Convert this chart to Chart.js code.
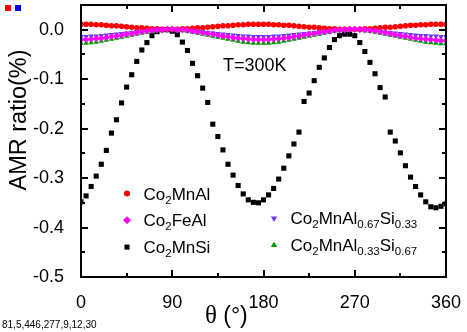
<!DOCTYPE html>
<html>
<head>
<meta charset="utf-8">
<script src="https://cdn.jsdelivr.net/npm/chart.js@4.4.1/dist/chart.umd.min.js"></script>
<style>
  html, body { margin: 0; padding: 0; background: #fff; }
  #wrap { width: 467px; height: 332px; position: relative; }
  #amr { position: relative; z-index: 1; }
  #deco { position: absolute; left: 0; top: 0; width: 467px; height: 332px; pointer-events: none; z-index: 2; }
  .k { position: absolute; background: #000; }
</style>
</head>
<body>
<div id="wrap"><canvas id="amr"></canvas><div id="deco"><div class="k" style="left:15px;top:5px;width:6px;height:6px;background:#00f"></div></div></div>
<script>
// rotation angle theta (deg)
const angles = [0, 5, 10, 15, 20, 25, 30, 35, 40, 45, 50, 55, 60, 65, 70, 75, 80, 85, 90,
  95, 100, 105, 110, 115, 120, 125, 130, 135, 140, 145, 150, 155, 160, 165, 170, 175, 180,
  185, 190, 195, 200, 205, 210, 215, 220, 225, 230, 235, 240, 245, 250, 255, 260, 265, 270,
  275, 280, 285, 290, 295, 300, 305, 310, 315, 320, 325, 330, 335, 340, 345, 350, 355, 360];

// AMR ratio (%)
const co2MnAl = [0.011, 0.011, 0.011, 0.010, 0.010, 0.009, 0.008, 0.008, 0.007, 0.006, 0.005, 0.004,
  0.004, 0.003, 0.002, 0.002, 0.001, 0.001, 0.001, 0.001, 0.002, 0.002, 0.003, 0.004, 0.004, 0.005,
  0.006, 0.007, 0.008, 0.008, 0.009, 0.010, 0.010, 0.011, 0.011, 0.011, 0.011,
  0.011, 0.010, 0.010, 0.009, 0.009, 0.008, 0.007, 0.006, 0.005, 0.005, 0.004, 0.003, 0.002, 0.002,
  0.001, 0.001, 0.001, 0.001, 0.001, 0.002, 0.002, 0.003, 0.004, 0.005, 0.005, 0.006, 0.007, 0.008,
  0.009, 0.009, 0.010, 0.010, 0.011, 0.011, 0.011, 0.011];
const co2FeAl = [-0.020, -0.020, -0.019, -0.018, -0.017, -0.016, -0.014, -0.013, -0.011, -0.009, -0.008,
  -0.006, -0.004, -0.003, -0.001, 0.000, 0.000, 0.001, 0.001, 0.000, 0.000, -0.001, -0.003, -0.004,
  -0.006, -0.008, -0.009, -0.011, -0.013, -0.014, -0.016, -0.017, -0.018, -0.019, -0.020, -0.020, -0.020,
  -0.020, -0.019, -0.018, -0.017, -0.016, -0.014, -0.013, -0.011, -0.009, -0.008, -0.006, -0.004, -0.003,
  -0.001, 0.000, 0.000, 0.001, 0.001, 0.001, 0.000, -0.001, -0.002, -0.004, -0.006, -0.008, -0.010,
  -0.012, -0.013, -0.015, -0.017, -0.018, -0.019, -0.020, -0.021, -0.022, -0.022];
const co2MnSi = [-0.348, -0.336, -0.317, -0.296, -0.272, -0.244, -0.209, -0.182, -0.148, -0.116, -0.091,
  -0.064, -0.041, -0.026, -0.012, -0.004, 0.000, 0.000, -0.003, -0.010, -0.025, -0.042, -0.068, -0.093,
  -0.118, -0.147, -0.191, -0.216, -0.243, -0.272, -0.294, -0.315, -0.332, -0.344, -0.349, -0.350, -0.344,
  -0.334, -0.321, -0.302, -0.280, -0.255, -0.231, -0.207, -0.145, -0.128, -0.103, -0.076, -0.057, -0.036,
  -0.020, -0.012, -0.009, -0.009, -0.012, -0.026, -0.044, -0.066, -0.089, -0.117, -0.136, -0.207, -0.225,
  -0.249, -0.275, -0.298, -0.317, -0.334, -0.348, -0.358, -0.360, -0.357, -0.352];
const co2MnAl67Si33 = [-0.014, -0.014, -0.013, -0.013, -0.012, -0.011, -0.010, -0.009, -0.008, -0.007,
  -0.006, -0.004, -0.003, -0.003, -0.002, -0.001, -0.001, 0.000, 0.000, -0.001, -0.001, -0.002, -0.003,
  -0.003, -0.004, -0.006, -0.007, -0.008, -0.009, -0.010, -0.011, -0.012, -0.013, -0.013, -0.014, -0.014,
  -0.014, -0.014, -0.013, -0.013, -0.012, -0.011, -0.010, -0.009, -0.008, -0.007, -0.006, -0.004, -0.003,
  -0.003, -0.002, -0.001, -0.001, 0.000, 0.000, -0.001, -0.001, -0.002, -0.003, -0.004, -0.005, -0.006,
  -0.007, -0.008, -0.009, -0.010, -0.011, -0.012, -0.012, -0.013, -0.013, -0.014, -0.014];
const co2MnAl33Si67 = [-0.027, -0.027, -0.026, -0.025, -0.023, -0.021, -0.019, -0.017, -0.015, -0.013,
  -0.011, -0.009, -0.007, -0.005, -0.003, -0.002, -0.001, 0.000, 0.000, -0.001, -0.002, -0.003, -0.005,
  -0.007, -0.009, -0.011, -0.013, -0.015, -0.017, -0.019, -0.021, -0.023, -0.025, -0.026, -0.027, -0.027,
  -0.027, -0.027, -0.026, -0.025, -0.023, -0.021, -0.019, -0.017, -0.015, -0.013, -0.011, -0.009, -0.007,
  -0.005, -0.003, -0.002, -0.001, 0.000, 0.000, -0.001, -0.002, -0.003, -0.005, -0.007, -0.009, -0.011,
  -0.013, -0.015, -0.017, -0.019, -0.021, -0.023, -0.025, -0.026, -0.027, -0.028, -0.028];

const xMajor = [0, 90, 180, 270, 360];
const yMajor = [0, -0.1, -0.2, -0.3, -0.4, -0.5];

const FONT = '"Liberation Sans", Arial, sans-serif';

function pts(arr) {
  return angles.map((a, i) => ({ x: a, y: arr[i] }));
}

// legend entries: text parts [string, isSubscript]
const legendItems = [
  { col: 0, row: 0, style: 'circle', r: 3, rot: 0, color: '#ff0000', parts: [['Co', 0], ['2', 1], ['MnAl', 0]] },
  { col: 0, row: 1, style: 'rectRot', r: 4, rot: 0, color: '#ff00ff', parts: [['Co', 0], ['2', 1], ['FeAl', 0]] },
  { col: 0, row: 2, style: 'rect', r: 3.6, rot: 0, color: '#000000', parts: [['Co', 0], ['2', 1], ['MnSi', 0]] },
  { col: 1, row: 0, style: 'triangle', r: 3.6, rot: 180, color: '#6633ff', parts: [['Co', 0], ['2', 1], ['MnAl', 0], ['0.67', 1], ['Si', 0], ['0.33', 1]] },
  { col: 1, row: 1, style: 'triangle', r: 3.6, rot: 0, color: '#009a00', parts: [['Co', 0], ['2', 1], ['MnAl', 0], ['0.33', 1], ['Si', 0], ['0.67', 1]] }
];

function isMajorY(v) {
  return yMajor.some(m => Math.abs(m - v) < 1e-6);
}

let info = 'none';

// box, inward ticks and zero line
const frame = {
  id: 'frame',
  afterDraw(chart) {
    const ctx = chart.ctx;
    const ca = chart.chartArea;
    const sx = chart.scales.x, sy = chart.scales.y;
    const L = Math.round(ca.left), R = Math.round(ca.right);
    const T = Math.round(ca.top), B = Math.round(ca.bottom);
    info = [L, T, R, B, sx.ticks.length, sy.ticks.length, Math.round(sy.getPixelForValue(0))].join(',');
    ctx.save();
    ctx.fillStyle = '#ff0000';
    ctx.fillRect(5, 5, 6, 6);
    ctx.fillStyle = '#000000';
    ctx.fillRect(L - 1, T - 1, R - L + 2, 2);
    ctx.fillRect(L - 1, B - 1, R - L + 2, 2);
    ctx.fillRect(L - 1, T - 1, 2, B - T + 2);
    ctx.fillRect(R - 1, T - 1, 2, B - T + 2);
    sx.ticks.forEach(t => {
      const px = Math.round(sx.getPixelForValue(t.value));
      const len = xMajor.includes(t.value) ? 7 : 4;
      ctx.fillRect(px - 1, B - len, 2, len);
      ctx.fillRect(px - 1, T, 2, len);
    });
    sy.ticks.forEach(t => {
      const py = Math.round(sy.getPixelForValue(t.value));
      const len = isMajorY(t.value) ? 7 : 4;
      ctx.fillRect(L, py - 1, len, 2);
      ctx.fillRect(R - len, py - 1, len, 2);
    });
    ctx.restore();
  }
};

// legend, temperature note and axis titles
const labels = {
  id: 'labels',
  afterDraw(chart) {
    const ctx = chart.ctx;
    const ca = chart.chartArea;
    ctx.save();
    ctx.textBaseline = 'alphabetic';
    ctx.textAlign = 'left';
    legendItems.forEach(it => {
      const mx = ca.left + (it.col === 0 ? 46 : 193);
      const my = ca.top + (it.col === 0 ? 188.5 + it.row * 26.8 : 213.3 + it.row * 26.8);
      ctx.fillStyle = it.color;
      ctx.strokeStyle = it.color;
      Chart.helpers.drawPoint(ctx, {
        pointStyle: it.style, radius: it.r, rotation: it.rot, borderWidth: 0
      }, mx, my);
      ctx.fillStyle = '#000';
      let px = mx + 16.5;
      const base = my + 6;
      it.parts.forEach(([s, sub]) => {
        ctx.font = sub ? '11.5px ' + FONT : '17px ' + FONT;
        ctx.fillText(s, px, sub ? base + 4 : base);
        px += ctx.measureText(s).width;
      });
    });

    ctx.font = '18px ' + FONT;
    ctx.fillText('T=300K', ca.left + 142, ca.top + 65.7);

    ctx.font = '10px ' + FONT;
    ctx.fillText(info, 2, 328);

    let tx = 205;
    ctx.font = '25px "Liberation Serif", "Times New Roman", serif';
    ctx.fillText('\u03b8', tx, 323);
    tx += ctx.measureText('\u03b8 ').width;
    ctx.font = '23px ' + FONT;
    ctx.fillText('(\u00b0)', tx, 323);

    ctx.translate(26, 120);
    ctx.rotate(-Math.PI / 2);
    ctx.textAlign = 'center';
    ctx.font = '23.5px ' + FONT;
    ctx.fillText('AMR ratio(%)', 0, 0);
    ctx.restore();
  }
};

new Chart(document.getElementById('amr'), {
  type: 'scatter',
  data: {
    datasets: [
      { label: 'Co2FeAl', data: pts(co2FeAl), pointStyle: 'rectRot', pointRadius: 3.4,
        backgroundColor: '#ff00ff', borderWidth: 0, order: 1 },
      { label: 'Co2MnAl', data: pts(co2MnAl), pointStyle: 'circle', pointRadius: 2.8,
        backgroundColor: '#ff0000', borderWidth: 0, order: 2 },
      { label: 'Co2MnAl0.67Si0.33', data: pts(co2MnAl67Si33), pointStyle: 'triangle', rotation: 180,
        pointRadius: 3.2, backgroundColor: '#6633ff', borderWidth: 0, order: 3 },
      { label: 'Co2MnAl0.33Si0.67', data: pts(co2MnAl33Si67), pointStyle: 'triangle',
        pointRadius: 3.2, backgroundColor: '#009a00', borderWidth: 0, order: 4 },
      { label: 'Co2MnSi', data: pts(co2MnSi), pointStyle: 'rect', pointRadius: 3.6,
        backgroundColor: '#000000', borderWidth: 0, order: 5 }
    ]
  },
  options: {
    responsive: true,
    maintainAspectRatio: false,
    animation: false,
    layout: { padding: { top: 5, right: 21, left: 0, bottom: 0 } },
    plugins: { legend: { display: false }, tooltip: { enabled: false } },
    scales: {
      x: {
        type: 'linear', min: 0, max: 360,
        grid: { display: false }, border: { display: false },
        ticks: {
          stepSize: 45, autoSkip: false, maxRotation: 0, padding: 7, color: '#000',
          font: { family: FONT, size: 18 },
          callback: v => (xMajor.includes(v) ? String(v) : '')
        },
        afterFit: s => { s.height = 55; s.paddingLeft = 0; s.paddingRight = 0; }
      },
      y: {
        min: -0.5, max: 0.05,
        grid: { display: false }, border: { display: false },
        ticks: {
          stepSize: 0.05, autoSkip: false, padding: 9, color: '#000',
          font: { family: FONT, size: 18 },
          callback: v => {
            const r = Math.round(v * 100);
            return r % 10 === 0 ? (r / 100 + 0).toFixed(1) : '';
          }
        },
        afterFit: s => { s.width = 81; s.paddingTop = 0; s.paddingBottom = 0; }
      }
    }
  },
  plugins: [frame, labels]
});
</script>
</body>
</html>
